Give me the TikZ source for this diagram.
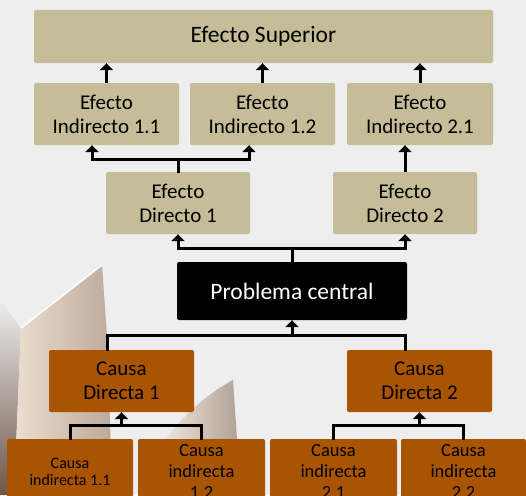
\documentclass[tikz,border=0pt]{standalone}
\usepackage{fontspec}
\setmainfont{Carlito}
\usetikzlibrary{arrows.meta}
\definecolor{bgc}{RGB}{238,238,238}
\definecolor{tanc}{RGB}{196,189,151}
\definecolor{brnc}{RGB}{168,84,0}
\definecolor{shadc}{RGB}{110,85,70}
\definecolor{papAl}{RGB}{236,222,208}
\definecolor{papAr}{RGB}{188,170,156}
\definecolor{papBl}{RGB}{238,228,218}
\definecolor{papBr}{RGB}{178,162,150}
\begin{document}
\begin{tikzpicture}[x=1pt,y=-1pt,
  box/.style={rounded corners=2pt, inner sep=0pt, align=center},
  tanbox/.style={box, fill=tanc, font=\fontsize{21}{24}\selectfont},
  brnbox/.style={box, fill=brnc, font=\fontsize{21}{24}\selectfont},
  lowbox/.style={box, fill=brnc, minimum width=127pt, minimum height=66pt, font=\fontsize{18.5}{21}\selectfont},
  ln/.style={line width=3pt, line cap=rect},
  arr/.style={line width=3pt, -{Triangle[width=13pt,length=7pt]}}]
\useasboundingbox (0,0) rectangle (526,495);
\clip (0,0) rectangle (526,495);
% background
\fill[bgc] (0,0) rectangle (526,495);
% decorative paper shapes
\shade[top color=bgc, bottom color=shadc] (0,300) -- (21,328) -- (14,495) -- (0,495) -- cycle;
\shade[left color=papAl, right color=papAr] (21,328) -- (102,265) -- (108,350) -- (112,495) -- (14,495) -- cycle;
\draw[white, line width=1.5pt] (21,328) -- (102,265);
\shade[left color=papBl, right color=papBr] (233,380) .. controls (205,395) and (185,415) .. (165,439) -- (237,439) -- cycle;
% nodes
\node[tanbox, minimum width=459pt, minimum height=53pt, font=\fontsize{23.5}{26}\selectfont] (es) at (263.5,36.5) {Efecto Superior};
\node[tanbox, minimum width=145pt, minimum height=62pt] (i11) at (106.5,114) {Efecto\\Indirecto 1.1};
\node[tanbox, minimum width=145pt, minimum height=62pt] (i12) at (262.5,114) {Efecto\\Indirecto 1.2};
\node[tanbox, minimum width=146pt, minimum height=62pt] (i21) at (420,114) {Efecto\\Indirecto 2.1};
\node[tanbox, minimum width=144pt, minimum height=62pt] (d1) at (178,203) {Efecto\\Directo 1};
\node[tanbox, minimum width=144pt, minimum height=62pt] (d2) at (405,203) {Efecto\\Directo 2};
\node[box, fill=black, text=white, minimum width=230pt, minimum height=58pt, font=\fontsize{23.5}{26}\selectfont] (pc) at (292,291) {Problema central};
\node[brnbox, minimum width=145pt, minimum height=62pt] (cd1) at (121.5,381) {Causa\\Directa 1};
\node[brnbox, minimum width=145pt, minimum height=62pt] (cd2) at (419.5,381) {Causa\\Directa 2};
\node[lowbox, minimum width=126pt, font=\fontsize{16}{17}\selectfont] (ci11) at (70,472) {Causa\\indirecta 1.1};
\node[lowbox] (ci12) at (201.5,472) {Causa\\indirecta\\1.2};
\node[lowbox] (ci21) at (333.5,472) {Causa\\indirecta\\2.1};
\node[lowbox, minimum width=125pt] (ci22) at (463.5,472) {Causa\\indirecta\\2.2};
% connectors: effects
\draw[arr] (i11.north) -- (i11.north |- es.south);
\draw[arr] (i12.north) -- (i12.north |- es.south);
\draw[arr] (i21.north) -- (i21.north |- es.south);
\coordinate (j1) at (178,159);
\draw[ln] (d1.north) -- (j1);
\draw[arr] (j1) -| ([xshift=-14.5pt]i11.south);
\draw[arr] (j1) -| ([xshift=-13.5pt]i12.south);
\draw[arr] (d2.north) -- (d2.north |- i21.south);
\coordinate (j2) at (292,248);
\draw[ln] (pc.north) -- (j2);
\draw[arr] (j2) -| (d1.south);
\draw[arr] (j2) -| (d2.south);
% connectors: causes
\coordinate (j3) at (292,335);
\draw[ln] ([xshift=-14.5pt]cd1.north) |- (j3);
\draw[ln] ([xshift=-14.5pt]cd2.north) |- (j3);
\draw[arr] (j3) -- (pc.south);
\coordinate (j4) at (121.5,425);
\draw[ln] (ci11.north) |- (j4);
\draw[ln] (ci12.north) |- (j4);
\draw[arr] (j4) -- (cd1.south);
\coordinate (j5) at (419.5,425);
\draw[ln] (ci21.north) |- (j5);
\draw[ln] (ci22.north) |- (j5);
\draw[arr] (j5) -- (cd2.south);
\end{tikzpicture}
\end{document}
